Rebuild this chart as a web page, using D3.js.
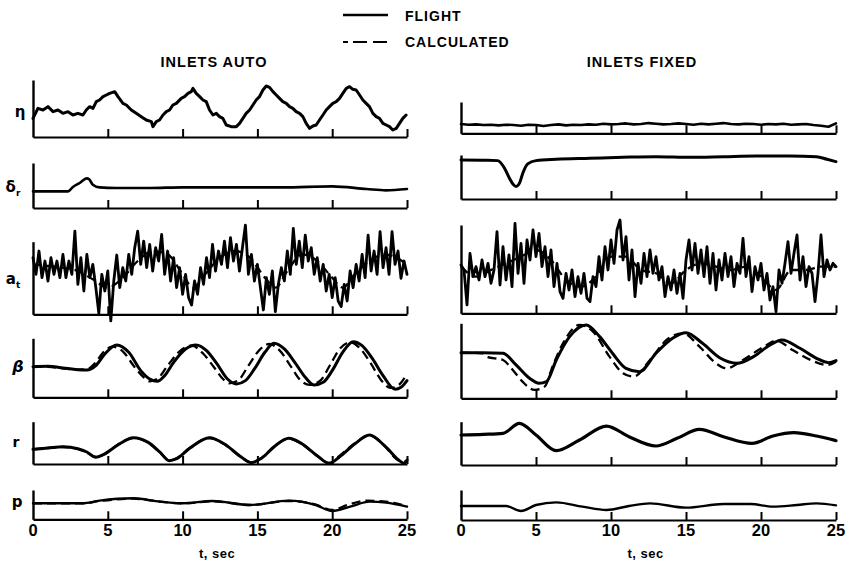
<!DOCTYPE html>
<html><head><meta charset="utf-8">
<script src="https://cdn.jsdelivr.net/npm/d3@7"></script>
<style>
body{margin:0;background:#fff;}
svg text{font-family:"Liberation Sans",Arial,sans-serif;font-weight:bold;fill:#000;}
</style></head><body>
<svg id="c" width="846" height="567"></svg>
<script>
// ---------------- DATA ----------------
const timeTicks = [0, 5, 10, 15, 20, 25];
const innerTicks = [5, 10, 15, 20, 25];
const columnTitles = ["INLETS AUTO", "INLETS FIXED"];
const legendLabels = ["FLIGHT", "CALCULATED"];
const axisTitle = "t, sec";

// eta, inlets auto  [t, value]
const etaAuto = [[0,5.6],[0.33,8.6],[0.67,8.1],[1.0,9.1],[1.34,7.6],[1.67,8.1],[2.0,7.1],[2.34,7.6],[2.67,6.6],[3.0,7.1],[3.34,6.6],[3.56,8.1],[3.79,9.1],[4.01,8.6],[4.23,10.6],[4.45,11.1],[4.68,12.1],[4.9,12.6],[5.12,13.1],[5.46,13.6],[5.68,12.1],[6.01,10.1],[6.24,9.6],[6.57,8.1],[6.9,7.1],[7.24,6.1],[7.57,5.1],[7.91,4.6],[8.02,3.1],[8.24,4.6],[8.46,5.1],[8.69,6.6],[8.91,7.6],[9.13,8.1],[9.35,9.6],[9.58,10.1],[9.91,11.6],[10.13,12.1],[10.36,13.1],[10.58,13.6],[10.69,14.6],[10.91,13.1],[11.14,12.1],[11.36,11.1],[11.58,10.6],[11.8,8.1],[12.03,6.6],[12.25,7.1],[12.47,6.1],[12.69,5.6],[12.92,3.6],[13.25,3.1],[13.59,3.1],[13.81,4.1],[14.03,5.6],[14.25,7.1],[14.48,8.1],[14.7,9.6],[14.92,11.1],[15.14,12.1],[15.37,14.1],[15.59,15.3],[15.81,14.9],[16.04,13.6],[16.26,12.6],[16.48,11.6],[16.7,10.6],[16.93,10.1],[17.15,9.1],[17.37,8.6],[17.59,7.6],[17.82,7.1],[18.04,6.1],[18.26,4.1],[18.49,2.6],[18.71,3.3],[18.93,3.6],[19.15,5.1],[19.38,6.6],[19.6,8.1],[19.82,9.1],[20.04,10.1],[20.27,10.6],[20.49,11.6],[20.71,13.1],[20.94,14.6],[21.16,15.1],[21.38,14.3],[21.6,14.1],[21.83,12.6],[22.05,11.1],[22.27,10.1],[22.49,9.1],[22.72,7.1],[22.94,6.1],[23.16,5.6],[23.39,4.1],[23.61,3.6],[23.83,3.1],[24.05,2.1],[24.28,2.6],[24.5,4.1],[24.72,5.6],[24.94,6.6]];
// eta, inlets fixed: values every 0.5 s
const etaFixed = [2.8,2.6,2.7,2.5,2.6,2.4,2.6,2.5,2.3,2.6,2.5,2.2,2.5,2.7,2.4,2.6,2.5,2.7,2.6,2.9,2.7,2.8,3.0,2.7,2.8,3.1,2.9,2.7,2.8,3.0,2.8,2.6,2.9,2.7,2.9,3.1,2.8,2.7,2.9,2.8,2.6,2.8,2.7,2.9,2.6,2.7,2.8,2.5,2.3,2.0,3.0];

// rudder deflection
const drAuto = [[0,5.0],[1,5.0],[2,5.0],[2.34,5.0],[2.67,6.3],[3.12,7.5],[3.6,8.9],[3.75,8.6],[4.0,7.0],[4.45,6.2],[5.57,6.0],[7.8,6.0],[10,6.2],[13.4,6.2],[16.7,6.2],[20,6.5],[22.3,5.7],[23.6,5.3],[25,5.7]];
const drFixed = [[0,11.8],[1.5,11.7],[2.45,11.6],[2.9,9.3],[3.23,6.3],[3.5,4.3],[3.67,3.8],[3.9,4.8],[4.12,7.8],[4.45,10.6],[5.0,11.6],[6.35,12.0],[8.6,12.3],[10.8,12.6],[13,12.8],[15.3,12.6],[17.5,12.8],[19.7,13.0],[21.9,13.0],[23.7,12.8],[24.4,12.0],[25,11.3]];

// lateral acceleration, flight: values every 0.2 s
const atAutoFlight = [17,12,19,11,16, 10,17,12,16,11, 18,11,16,12,25, 9,17,7,18,11, 15,8,0.3,12,7,
  13,-2,10,17.8,8, 14,10,18,12,20, 25,15,22,14,21, 13,20,16,24,12, 19,10,17,8,14,
  6,12,5,2.8,10, 6,14,9,17,11, 21,13,19,15,22, 14,23,16,21,13, 20,26.8,12,18,10,
  15,8,1.3,11,6, 13,0.8,9,14,10, 19,12,25.8,15,22, 14,23.8,16,20,12, 17,10,15,7,12,
  5,11,4,2.3,9, 4,13,8,15,10, 18,11,23.8,13,19, 12,24.8,14,20,12, 24.8,15,19,10.8,16, 12];
const atAutoCalc = [[0,15],[1,14.5],[2,14],[3,13],[4,10.5],[5,8],[6,11],[7,16],[8,19],[9,18],[10,12],[10.7,8],[11.5,12],[12.5,17],[13.5,19],[14.5,17],[15.5,11],[16.2,8],[17,13],[18,18],[19,16],[20,11],[20.7,8],[21.5,12],[22.5,16],[23.5,18],[24.3,17],[25,15]];
const atFixedFlight = [14.5,13,2.5,18,11, 14,10,16,11,15, 9,13,24.5,8.5,20, 10,17.5,8,27,12, 21,9,22,16,25,
  17,24,14,20,11, 19,8,15,6.5,4.5, 12,7,13,5,11, 6,12,4.5,3.5,11, 8,17,10,20,13,
  22,15,25,28,16, 23,10,19,5,15, 9,18,11,19,12, 17,10,14,5,11, 7,13,6,12,4.5,
  16,22,13,21,12, 19,11,20,9,18, 7,16,10,18,11, 17,8,15,12,22.5, 11,17,6.5,14,10,
  15,7,12,4,8, 0.5,13,9,15,21.5, 12,18,23.5,10,17, 8,14,12,3.5,12, 23.5,11,16,13,15, 14];
const atFixedCalc = [[0,14],[1,11],[2,13],[3,15],[4,17],[5,19],[6,16],[7,10],[8,8],[9,11],[10,17],[11,17],[12,13],[13,12],[14,9],[15,13],[16,15],[17,14],[18,13],[19,14],[20,11],[21,7],[22,13],[23,13],[24,14],[25,14]];

// sideslip
const betaAutoFlight = [[0,9.2],[1,9.3],[2,8.8],[3,8.3],[3.6,8.2],[4.2,9.5],[4.8,13.0],[5.6,15.7],[6.4,13.5],[7.2,8.0],[7.8,5.5],[8.3,4.8],[8.8,6.5],[9.4,10.5],[10.2,14.5],[10.9,15.7],[11.6,14.0],[12.3,10.0],[13.0,5.5],[13.6,4.0],[14.2,5.0],[14.8,8.5],[15.5,13.5],[16.1,16.2],[16.8,14.5],[17.5,10.5],[18.2,6.0],[18.8,3.7],[19.4,4.5],[20.0,8.0],[20.7,13.5],[21.4,16.7],[22.0,15.5],[22.7,11.5],[23.4,6.5],[24.2,2.4],[24.6,3.0],[25,5.0]];
const betaAutoCalc = [[0,9.2],[1,9.1],[2,8.7],[3,8.3],[3.6,8.4],[4.2,10.5],[4.7,13.5],[5.3,15.2],[6.0,13.8],[6.8,9.0],[7.4,6.0],[7.8,4.8],[8.3,5.5],[9.0,9.5],[9.8,13.8],[10.6,15.5],[11.4,13.0],[12.1,9.0],[12.7,5.5],[13.1,4.2],[13.7,5.0],[14.4,9.5],[15.1,14.0],[15.8,16.0],[16.5,14.0],[17.2,9.5],[17.9,5.0],[18.5,3.7],[19.2,5.0],[19.9,10.0],[20.5,14.5],[21.2,16.5],[21.9,14.5],[22.6,10.0],[23.3,5.0],[23.9,2.8],[24.4,3.5],[25,7.0]];
const betaFixedFlight = [[0,13.7],[1.45,13.7],[2.8,13.5],[3.67,10.0],[4.57,6.0],[5.2,4.5],[5.7,5.0],[6.35,11.5],[7.24,18.5],[8.35,22.0],[9.24,18.5],[10.1,13.5],[11.0,9.0],[11.9,8.0],[13.0,13.5],[14.1,18.0],[15.0,19.7],[16.1,16.5],[17.3,12.0],[18.4,10.5],[19.5,12.5],[20.6,16.0],[21.4,17.5],[22.6,15.0],[23.7,12.0],[24.5,10.7],[25,11.3]];
const betaFixedCalc = [[0,13.7],[1.45,13.5],[1.67,12.5],[2.8,11.5],[3.45,8.5],[4.1,5.0],[4.9,2.5],[5.57,3.5],[6.1,9.5],[6.8,16.5],[7.9,22.0],[8.8,20.0],[9.9,12.5],[10.8,7.5],[11.5,6.5],[12.6,11.5],[13.7,17.5],[14.8,19.5],[15.9,15.5],[17.0,10.5],[17.7,9.0],[18.8,11.5],[20.2,15.5],[21.0,17.3],[22.1,14.5],[23.3,11.5],[24.4,10.0],[25,11.0]];

// yaw rate
const rAutoFlight = [[0,4.4],[1,4.8],[2,5.2],[3,4.6],[3.6,3.6],[4.2,2.0],[4.7,2.8],[5.7,5.8],[6.7,7.9],[7.7,6.5],[8.5,3.5],[9.1,1.0],[9.6,1.6],[10.5,4.8],[11.8,7.9],[12.8,6.0],[13.8,2.5],[14.6,0.4],[15.3,1.8],[16.2,5.5],[17.1,7.7],[18.0,6.0],[19.0,2.5],[19.8,0.2],[20.5,2.2],[21.5,6.0],[22.5,8.7],[23.5,5.5],[24.5,1.0],[24.8,0.2],[25,1.2]];
const rAutoCalc = [[0,4.4],[1,4.8],[2,5.1],[3,4.5],[3.6,3.4],[4.2,2.1],[4.8,3.0],[5.7,5.9],[6.7,7.8],[7.7,6.4],[8.5,3.4],[9.1,1.1],[9.6,1.7],[10.5,4.9],[11.8,7.8],[12.8,5.9],[13.8,2.4],[14.6,0.5],[15.3,1.9],[16.2,5.6],[17.1,7.6],[18.0,5.9],[19.0,2.4],[19.8,0.3],[20.5,2.5],[21.5,6.2],[22.5,8.6],[23.5,5.4],[24.5,1.0],[25,0.8]];
const rFixedFlight = [[0,9.0],[1.5,9.2],[2.8,9.5],[3.9,12.5],[5.0,9.0],[6.35,4.3],[7.9,7.5],[9.7,11.7],[11.2,8.5],[13.0,5.7],[14.4,8.0],[15.9,10.7],[17.5,8.5],[19.4,6.5],[20.8,8.7],[22.2,9.7],[23.7,8.7],[25,7.3]];

// roll rate
const pAutoFlight = [[0,4.8],[3.3,4.8],[4.45,5.6],[6.7,6.3],[8.5,5.3],[10.0,4.8],[12.0,5.5],[14.5,4.3],[17.1,5.6],[18.9,4.3],[20.0,2.5],[21.2,3.8],[22.5,5.3],[23.6,5.0],[25,3.8]];
const pAutoCalc = [[0,4.8],[3.3,4.8],[4.45,5.5],[6.7,6.2],[8.5,5.3],[10.0,4.8],[12.0,5.4],[14.5,4.3],[17.1,5.5],[18.9,4.4],[20.0,2.8],[21.0,4.3],[22.3,5.6],[23.4,5.4],[25,4.0]];
const pFixedFlight = [[0,4.2],[3.0,4.2],[4.0,2.7],[5.0,4.5],[6.35,5.3],[8.1,4.0],[9.7,3.0],[11.2,4.2],[12.6,5.0],[15.0,3.7],[17.5,4.8],[19.3,4.8],[20.8,4.0],[22.4,4.5],[23.7,5.0],[25,4.4]];

// ---------------- LAYOUT ----------------
const svg = d3.select("#c");
const xL = d3.scaleLinear().domain([0, 25]).range([33, 407]);
const xR = d3.scaleLinear().domain([0, 25]).range([461, 836]);
const stepPairs = (arr, dt) => arr.map((v, i) => [i * dt, v]);

const panels = [
  {x:xL, top:80, base:137, ymax:17.1, flight:etaAuto, curve:d3.curveLinear, w:3},
  {x:xR, top:102, base:133.3, ymax:9.5, flight:stepPairs(etaFixed,0.5), curve:d3.curveLinear, w:2.6},
  {x:xL, top:163, base:208, ymax:13.5, flight:drAuto, curve:d3.curveMonotoneX, w:2.6},
  {x:xR, top:155, base:199, ymax:13.3, flight:drFixed, curve:d3.curveMonotoneX, w:3},
  {x:xL, top:241.7, base:314.3, ymax:21.8, flight:stepPairs(atAutoFlight,0.2), calc:atAutoCalc, curve:d3.curveLinear, w:2.8},
  {x:xR, top:225, base:313.3, ymax:26.5, flight:stepPairs(atFixedFlight,0.2), calc:atFixedCalc, curve:d3.curveLinear, w:2.8},
  {x:xL, top:338.3, base:397.3, ymax:17.7, flight:betaAutoFlight, calc:betaAutoCalc, curve:d3.curveMonotoneX, w:3},
  {x:xR, top:323.3, base:398.3, ymax:22.5, flight:betaFixedFlight, calc:betaFixedCalc, curve:d3.curveMonotoneX, w:3},
  {x:xL, top:421.7, base:464, ymax:12.7, flight:rAutoFlight, calc:rAutoCalc, curve:d3.curveMonotoneX, w:3},
  {x:xR, top:421.7, base:465, ymax:13, flight:rFixedFlight, curve:d3.curveMonotoneX, w:3.2},
  {x:xL, top:490, base:519.3, ymax:8.8, flight:pAutoFlight, calc:pAutoCalc, curve:d3.curveMonotoneX, w:2.4, bottom:true},
  {x:xR, top:490, base:520, ymax:9, flight:pFixedFlight, curve:d3.curveMonotoneX, w:2.4, bottom:true}
];

panels.forEach(p => {
  const y = d3.scaleLinear().domain([0, p.ymax]).range([p.base, p.top]);
  const g = svg.append("g");
  // baseline with upward ticks
  const ax = g.append("g").attr("transform", `translate(0,${p.base})`)
    .call(d3.axisBottom(p.x).tickValues(innerTicks).tickSizeInner(-8).tickSizeOuter(0).tickFormat(""));
  ax.select(".domain").attr("stroke", "#000").attr("stroke-width", 2.2);
  ax.selectAll(".tick line").attr("stroke", "#000").attr("stroke-width", 2);
  // vertical axis
  const ay = g.append("g").attr("transform", `translate(${p.x(0)},0)`)
    .call(d3.axisLeft(y).tickValues([]).tickSizeOuter(0));
  ay.select(".domain").attr("stroke", "#000").attr("stroke-width", 2.4);

  const line = d3.line().x(d => p.x(d[0])).y(d => y(d[1])).curve(p.curve);
  if (p.calc) {
    g.append("path").datum(p.calc).attr("d", d3.line().x(d => p.x(d[0])).y(d => y(d[1])).curve(d3.curveMonotoneX))
      .attr("fill", "none").attr("stroke", "#000").attr("stroke-width", 2.3)
      .attr("stroke-dasharray", "9,5");
  }
  g.append("path").datum(p.flight).attr("d", line)
    .attr("fill", "none").attr("stroke", "#000").attr("stroke-width", p.w)
    .attr("stroke-linejoin", "round").attr("stroke-linecap", "round");

  if (p.bottom) {
    g.selectAll("text.tl").data(timeTicks).join("text").attr("class", "tl")
      .attr("x", d => p.x(d)).attr("y", 536).attr("text-anchor", "middle")
      .attr("font-size", 16.5).text(d => d);
    g.append("text").attr("x", (p.x.range()[0] + p.x.range()[1]) / 2 - 3).attr("y", 558)
      .attr("text-anchor", "middle").attr("font-size", 13).attr("letter-spacing", 0.5).text(axisTitle);
  }
});

// Column titles
svg.append("text").attr("x", 214).attr("y", 67).attr("text-anchor", "middle")
  .attr("font-size", 14.5).attr("letter-spacing", 1).text(columnTitles[0]);
svg.append("text").attr("x", 642).attr("y", 67).attr("text-anchor", "middle")
  .attr("font-size", 14.5).attr("letter-spacing", 1).text(columnTitles[1]);

// Legend
svg.append("line").attr("x1", 343).attr("x2", 388).attr("y1", 15).attr("y2", 15)
  .attr("stroke", "#000").attr("stroke-width", 2.4);
svg.append("line").attr("x1", 343).attr("x2", 388).attr("y1", 42).attr("y2", 42)
  .attr("stroke", "#000").attr("stroke-width", 2.2).attr("stroke-dasharray", "5,5,14,6,14,6");
svg.append("text").attr("x", 405).attr("y", 21).attr("font-size", 14).attr("letter-spacing", 1).text(legendLabels[0]);
svg.append("text").attr("x", 405).attr("y", 47).attr("font-size", 14).attr("letter-spacing", 1).text(legendLabels[1]);

// Y labels
const yl = [
  {t:"η", s:"", x:20, y:117, fs:15},
  {t:"δ", s:"r", x:13, y:192, fs:15},
  {t:"a", s:"t", x:13, y:284, fs:15},
  {t:"β", s:"", x:18, y:372, fs:16, it:true},
  {t:"r", s:"", x:16, y:447, fs:14},
  {t:"p", s:"", x:17, y:507, fs:15}
];
yl.forEach(d => {
  const t = svg.append("text").attr("x", d.x).attr("y", d.y).attr("text-anchor", "middle")
    .attr("font-size", d.fs).style("font-family", "'DejaVu Sans',sans-serif")
    .style("font-style", d.it ? "italic" : "normal");
  t.append("tspan").text(d.t);
  if (d.s) t.append("tspan").attr("dy", 4).attr("font-size", 9).text(d.s);
});
</script>
</body></html>
